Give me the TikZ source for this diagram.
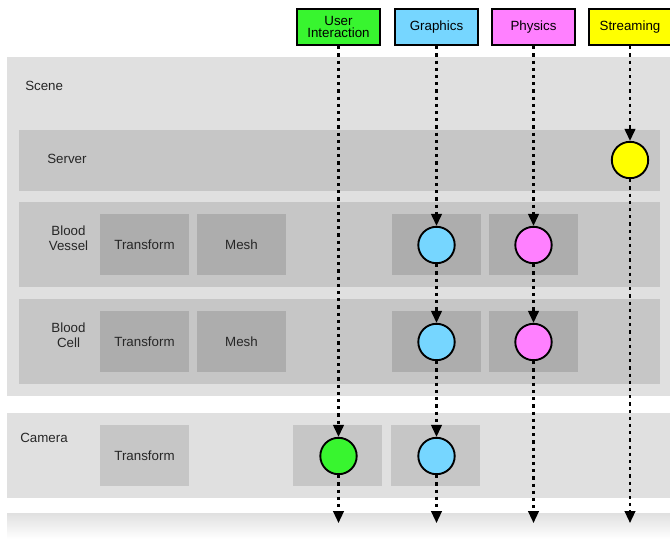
\documentclass[tikz,border=0pt]{standalone}
\usepackage{fontspec}
\setmainfont{Liberation Sans}
\usetikzlibrary{arrows.meta,shadows}
\definecolor{scenebg}{HTML}{E0E0E0}
\definecolor{panelbg}{HTML}{C6C6C6}
\definecolor{boxbg}{HTML}{ADADAD}
\definecolor{uigreen}{HTML}{38F52F}
\definecolor{gfxblue}{HTML}{76D6FF}
\definecolor{physpink}{HTML}{FF80FF}
\definecolor{streamyellow}{HTML}{FFFF00}
\begin{document}
\begin{tikzpicture}[x=0.75pt,y=-0.75pt,
  every node/.style={font=\fontsize{10}{11.2}\selectfont, text=black!85},
  topbox/.style={draw=black, line width=1.6pt, minimum width=62pt, minimum height=27.3pt, inner sep=0pt, align=center, text=black,
    drop shadow={shadow xshift=0.8pt, shadow yshift=-0.8pt, opacity=0.35}},
  dot/.style={circle, draw=black, line width=1.4pt, minimum size=27.3pt, inner sep=0pt,
    drop shadow={shadow xshift=0.6pt, shadow yshift=-0.6pt, opacity=0.3}},
  flow/.style={line width=1.6pt, dash pattern=on 2.4pt off 3pt, -{Triangle[width=8pt,length=9pt]}},
  lbl/.style={anchor=west, inner sep=0pt},
  clbl/.style={align=center, inner sep=0pt},
]
\useasboundingbox (0,0) rectangle (670,539);
\clip (0,0) rectangle (670,539);
\fill[white] (0,0) rectangle (670,539);

% Scene panel
\fill[scenebg] (7,57) rectangle (670,396);
\fill[panelbg] (19,130) rectangle (660,191);
\fill[panelbg] (19,202) rectangle (660,287);
\fill[panelbg] (19,299) rectangle (660,384);
\foreach \y in {214,311}{
  \fill[boxbg] (100,\y) rectangle (189,\y+61);
  \fill[boxbg] (197,\y) rectangle (286,\y+61);
  \fill[boxbg] (392,\y) rectangle (481,\y+61);
  \fill[boxbg] (489,\y) rectangle (578,\y+61);
}
% Camera panel
\fill[scenebg] (7,413) rectangle (670,498);
\fill[panelbg] (100,425) rectangle (189,486);
\fill[panelbg] (293,425) rectangle (382,486);
\fill[panelbg] (391,425) rectangle (480,486);
% bottom fading strip
\shade[top color=scenebg, bottom color=white] (7,513) rectangle (670,539);

% labels
\node[lbl] (lscene) at (25,86) {Scene};
\node[lbl] (lserver) at (47,159) {Server};
\node[clbl] (lvessel) at (68.5,238) {Blood\\Vessel};
\node[clbl] (lcell) at (68.5,335) {Blood\\Cell};
\node[lbl] (lcamera) at (20,438) {Camera};
\node (t1) at (144.5,244.5) {Transform};
\node (m1) at (241.5,244.5) {Mesh};
\node (t2) at (144.5,341.5) {Transform};
\node (m2) at (241.5,341.5) {Mesh};
\node (t3) at (144.5,456) {Transform};

% top boxes
\node[topbox, fill=uigreen] (ui) at (338.5,27) {User\\[-1.5pt]Interaction};
\node[topbox, fill=gfxblue] (gfx) at (436.5,27) {Graphics};
\node[topbox, fill=physpink] (phys) at (533.5,27) {Physics};
\node[topbox, fill=streamyellow] (stream) at (630,27) {Streaming};

% circles
\node[dot, fill=streamyellow] (s1) at (630,160) {};
\node[dot, fill=gfxblue] (g1) at (436.5,245) {};
\node[dot, fill=gfxblue] (g2) at (436.5,342) {};
\node[dot, fill=gfxblue] (g3) at (436.5,456) {};
\node[dot, fill=physpink] (p1) at (533.5,245) {};
\node[dot, fill=physpink] (p2) at (533.5,342) {};
\node[dot, fill=uigreen] (u1) at (338.5,456) {};

% end points
\coordinate (uend) at (338.5,523);
\coordinate (gend) at (436.5,523);
\coordinate (pend) at (533.5,523);
\coordinate (send) at (630,523);

% flows
\draw[flow] (ui.south) -- (u1.north);
\draw[flow] (u1.south) -- (uend);
\draw[flow] (gfx.south) -- (g1.north);
\draw[flow] (g1.south) -- (g2.north);
\draw[flow] (g2.south) -- (g3.north);
\draw[flow] (g3.south) -- (gend);
\draw[flow] (phys.south) -- (p1.north);
\draw[flow] (p1.south) -- (p2.north);
\draw[flow] (p2.south) -- (pend);
\draw[flow] (stream.south) -- (s1.north);
\draw[flow] (s1.south) -- (send);
\end{tikzpicture}
\end{document}
